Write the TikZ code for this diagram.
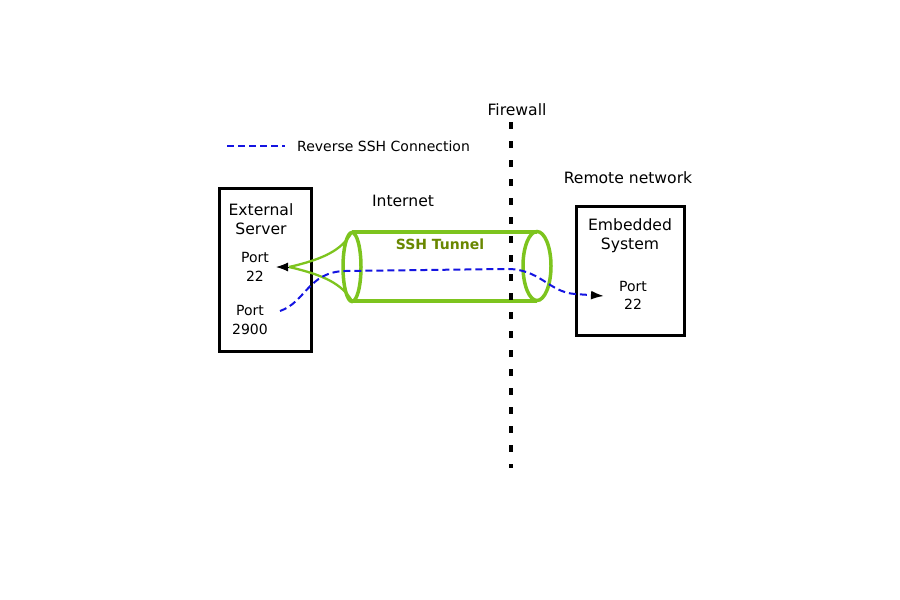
\documentclass[tikz,border=0pt]{standalone}
\usepackage{fontspec}
\setmainfont{DejaVu Sans}
\usepackage{tikz}
\usetikzlibrary{positioning}
\usetikzlibrary{arrows.meta}
\definecolor{tunnel}{RGB}{125,196,30}
\definecolor{tunneltext}{RGB}{105,135,0}
\definecolor{reverse}{RGB}{20,20,225}

\begin{document}
\begin{tikzpicture}[
x=1pt,y=-1pt,
MyBoxes/.style={draw=black,line width=3pt,minimum width=#1},
MyLabels/.style={font=\fontsize{14}{18.5}\selectfont,align=center,inner sep=1pt},
MyTitles/.style={MyLabels,font=\fontsize{15.6}{19}\selectfont},
Tunnel/.style={draw=tunnel,line width=3.5pt},
Funnel/.style={draw=tunnel,line width=2.3pt},
Reverse/.style={draw=reverse,line width=2pt,dash pattern=on 7pt off 4pt},
Wall/.style={draw=black,line width=3.2pt,dash pattern=on 7pt off 12pt}
]
\useasboundingbox (0,0) rectangle (900,600);

% boxes
\node[MyBoxes=92pt,minimum height=163pt] (server) at (265,269.5) {};
\node[MyBoxes=108pt,minimum height=129pt] (embedded) at (630,270.5) {};

% labels
\node[MyTitles] (serverlbl) at (261,219.5) {External\\Server};
\node[MyLabels] (srvport22) at (255,267) {Port\\22};
\node[MyLabels] (srvport2900) at (250,320) {Port\\2900};
\node[MyTitles] (embeddedlbl) at (630,236) {Embedded\\System};
\node[MyLabels] (embport22) at (633,295.5) {Port\\22};
\node[MyTitles] (internet) at (403,201) {Internet};
\node[MyTitles] (remote) at (628,178) {Remote network};
\node[MyTitles] (firewall) at (517,110) {Firewall};
\node[MyLabels,anchor=west] (legend) at (296,146) {Reverse SSH Connection};

% tunnel
\coordinate (apex) at (289,267);
\coordinate (tunnelL) at (352,267);
\coordinate (tunnelR) at (537,266);
\draw[Tunnel] (352,232) -- (537,232);
\draw[Tunnel] (352,301) -- (537,301);
\draw[Tunnel] (tunnelL) ellipse [x radius=9, y radius=34.5];
\draw[Tunnel] (tunnelR) ellipse [x radius=14, y radius=34.5];
\draw[Funnel] (apex) .. controls (324,259) and (342,250) .. (352,232);
\draw[Funnel] (apex) .. controls (324,275) and (342,284) .. (352,301);
\node[font=\bfseries\fontsize{14}{16}\selectfont,text=tunneltext] (tunnellbl) at (440,244) {SSH Tunnel};

\coordinate (tipin) at (276,267);
\draw[-{Latex[length=12pt,width=9pt]},line width=1pt] (apex) -- (tipin);

% firewall
\draw[Wall] (511,122) -- (511,468);

% reverse connection
\coordinate (revstart) at (280,311);
\coordinate (revend) at (604,296);
\draw[Reverse,-{Latex[black,length=13pt,width=9pt]}] (revstart) .. controls (306,302) and (308,272) .. (345,271) -- (505,269) .. controls (540,268) and (548,292) .. (575,294) -- (revend);
\draw[Reverse] (227,146) -- (285,146);

\end{tikzpicture}
\end{document}
